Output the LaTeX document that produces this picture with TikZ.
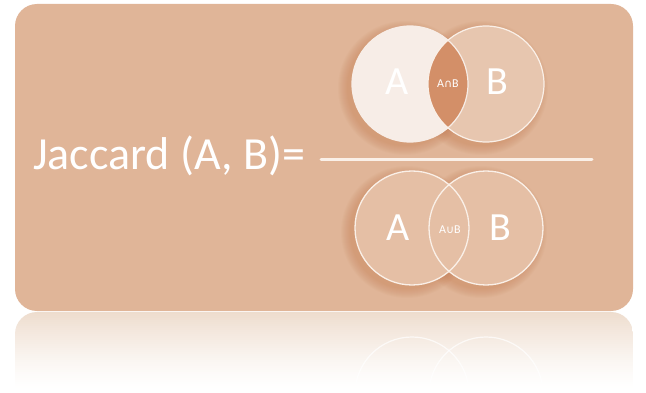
\documentclass[tikz,border=0pt]{standalone}
\usepackage{fontspec}
\setmainfont{Carlito}
\newfontfamily\symfont{DejaVu Sans}
\definecolor{boxbg}{RGB}{224,181,152}
\definecolor{reflbg}{RGB}{238,221,206}
\definecolor{lightA}{RGB}{247,237,231}
\definecolor{midB}{RGB}{231,198,175}
\definecolor{lensc}{RGB}{211,143,104}
\definecolor{lowc}{RGB}{229,191,165}
\definecolor{linec}{RGB}{250,240,232}
\definecolor{shc}{RGB}{196,120,76}
\tikzset{
  bigl/.style={text=white, font=\fontsize{40}{40}\selectfont, inner sep=0pt},
  smalll/.style={text=white, font=\fontsize{12}{12}\selectfont, inner sep=0pt},
}
\newcommand{\softshadow}[3]{%
  \foreach \k in {0,...,9} {\fill[shc, opacity=0.045] (#1-5,#2+4) circle[radius=#3+9-\k];}%
}
\begin{document}
\begin{tikzpicture}[x=1pt,y=-1pt]
\useasboundingbox (0,0) rectangle (646,393);
\fill[white] (0,0) rectangle (646,393);
% reflection
\begin{scope}
\path[clip, rounded corners=22pt] (15,395) -- (15,312) -- (633,312) -- (633,395);
\foreach \i in {0,...,38} {
  \pgfmathsetmacro{\p}{100*(1-\i/38)^1.3}
  \fill[reflbg!\p!white] (15,312+2*\i) rectangle (633,314.2+2*\i);
}
\draw[white, line width=1.2pt, opacity=0.7] (412,394) circle[radius=57];
\draw[white, line width=1.2pt, opacity=0.7] (486,394) circle[radius=57];
\end{scope}
% main box
\fill[boxbg, rounded corners=22pt] (15,4) rectangle (633,311);
% text
\node[anchor=base west, inner sep=0pt, text=white, font=\fontsize{46}{46}\selectfont] (jac) at (33,170) {Jaccard (A, B)=};
\coordinate (l1) at (321,160);
\coordinate (l2) at (592,160);
\draw[linec, line width=3pt, line cap=round] (l1) -- (l2);
% top venn
\softshadow{410}{84}{58}
\softshadow{486}{84}{58}
\fill[lightA] (410,84) circle[radius=58];
\fill[midB] (486,84) circle[radius=58];
\begin{scope}
\clip (410,84) circle[radius=58];
\fill[lensc] (486,84) circle[radius=58];
\end{scope}
\draw[lightA, line width=1.2pt] (410,84) circle[radius=58];
\draw[linec, line width=1.2pt] (486,84) circle[radius=58];
\node[bigl] (ta) at (397,82) {A};
\node[smalll] (tab) at (448,84) {A{\symfont\fontsize{11}{11}\selectfont∩}B};
\node[bigl] (tb) at (497,82) {B};
% bottom venn
\softshadow{412}{228}{57}
\softshadow{486}{228}{57}
\fill[lowc] (412,228) circle[radius=57];
\fill[lowc] (486,228) circle[radius=57];
\draw[linec, line width=1.3pt] (412,228) circle[radius=57];
\draw[linec, line width=1.3pt] (486,228) circle[radius=57];
\node[bigl] (ba) at (398,228) {A};
\node[smalll] (bab) at (450,230) {A{\symfont\fontsize{11}{11}\selectfont∪}B};
\node[bigl] (bb) at (500,228) {B};
\end{tikzpicture}
\end{document}
